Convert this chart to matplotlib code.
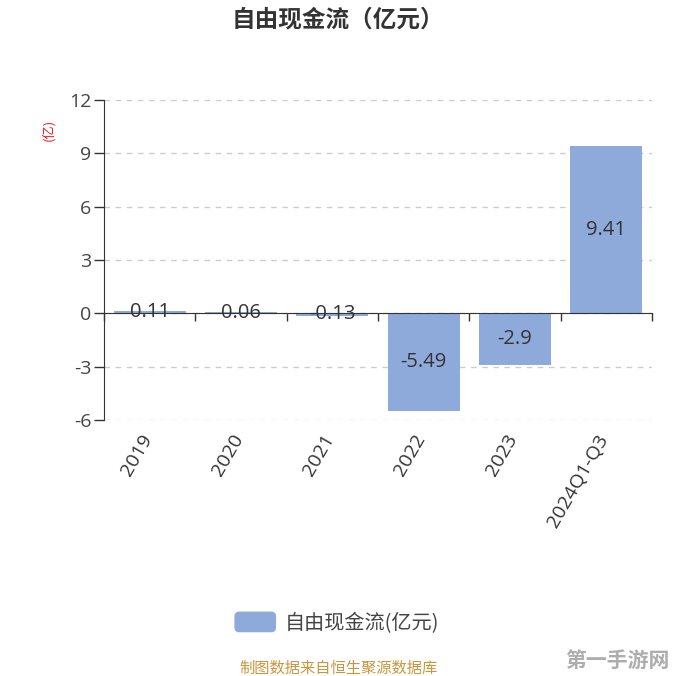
import matplotlib
matplotlib.use("Agg")
import matplotlib.pyplot as plt
from matplotlib.patches import Patch, FancyBboxPatch
from matplotlib.legend_handler import HandlerPatch
from matplotlib.transforms import blended_transform_factory, offset_copy

plt.rcParams['font.family'] = ['Open Sans', 'Noto Sans CJK SC', 'DejaVu Sans']

categories = ['2019', '2020', '2021', '2022', '2023', '2024Q1-Q3']
values = [0.11, 0.06, -0.13, -5.49, -2.9, 9.41]
value_labels = ['0.11', '0.06', '-0.13', '-5.49', '-2.9', '9.41']
yticks = [-6, -3, 0, 3, 6, 9, 12]
series_name = '自由现金流(亿元)'
title = '自由现金流（亿元）'
unit_label = '(亿)'
footer = '制图数据来自恒生聚源数据库'
watermark = '第一手游网'

bar_color = '#8eaadb'
text_color = '#333333'
cjk = ['Noto Sans CJK SC', 'DejaVu Sans']

fig = plt.figure(figsize=(6.76, 6.76), dpi=100)
ax = fig.add_axes([104/676, 1-420/676, 548/676, 320/676])

x = list(range(len(categories)))
bars = ax.bar(x, values, width=0.79, color=bar_color, zorder=2)
ax.bar_label(bars, labels=value_labels, label_type='center', fontsize=14.5, color=text_color)

ax.set_xlim(-0.5, len(categories) - 0.5)
ax.set_ylim(-6, 12)
ax.set_yticks(yticks)
ax.set_yticklabels([str(v) for v in yticks], fontsize=14, color='#444444')
ax.tick_params(axis='y', direction='out', length=7, width=1, color='#333333', pad=2)
ax.yaxis.grid(True, linestyle=(0, (4, 4)), color='#cccccc', linewidth=1, zorder=0)

for s in ['top', 'right']:
    ax.spines[s].set_visible(False)
ax.spines['left'].set_color('#333333')
ax.spines['bottom'].set_position(('data', 0))
ax.spines['bottom'].set_color('#333333')
ax.spines['bottom'].set_zorder(3)
ax.set_xticks([i + 0.5 for i in range(len(categories) - 1)] + [-0.5, len(categories) - 0.5])
ax.set_xticklabels([])
ax.tick_params(axis='x', direction='out', length=6, width=1, color='#333333')

trans = blended_transform_factory(ax.transData, ax.transAxes)
trans = offset_copy(trans, fig=fig, x=-2, y=-16, units='dots')
for i, c in enumerate(categories):
    ax.text(i, 0, c, transform=trans, rotation=60, ha='right', va='center',
            rotation_mode='anchor', fontsize=14, color=text_color)

fig.text(0.5, 1 - 19/676, title, ha='center', va='center', fontsize=17,
         fontweight='bold', color=text_color, family=cjk)
fig.text(48/676, 1 - 130/676, unit_label, ha='center', va='center', rotation=90,
         fontsize=9.5, color='#e02020', family=cjk)


def rounded(legend, orig_handle, xdescent, ydescent, width, height, fontsize):
    return FancyBboxPatch((-xdescent, -ydescent), width, height,
                          boxstyle='round,pad=0,rounding_size=3')

handle = Patch(facecolor=bar_color, edgecolor=bar_color, label=series_name)
leg = fig.legend(handles=[handle], loc='center', bbox_to_anchor=(337/676, 1 - 623/676),
                 frameon=False, prop={'family': cjk, 'size': 14.5}, handlelength=2.0,
                 handleheight=1.1, handletextpad=0.45, labelcolor='#444444',
                 handler_map={Patch: HandlerPatch(patch_func=rounded)})

fig.text(338/676, 1 - 668/676, footer, ha='center', va='center', fontsize=11,
         color='#c8963c', family=cjk)
fig.text(617/676, 1 - 660/676, watermark, ha='center', va='center', fontsize=15,
         fontweight='bold', color='#999999', alpha=0.8, family=cjk)

fig.savefig('out.png', dpi=100)
